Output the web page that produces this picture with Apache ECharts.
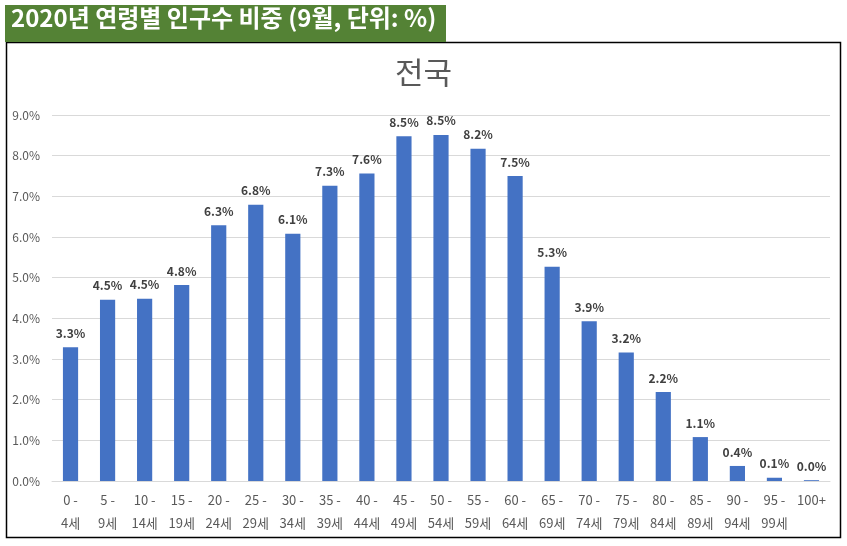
<!DOCTYPE html>
<html><head><meta charset="utf-8">
<script src="https://cdn.jsdelivr.net/npm/echarts@6/dist/echarts.min.js"></script>
<style>html,body{margin:0;padding:0;background:#fff}#c{width:847px;height:546px}</style>
</head><body><div id="c"></div>
<script>
const categories = ['0 -\n4세','5 -\n9세','10 -\n14세','15 -\n19세','20 -\n24세','25 -\n29세','30 -\n34세','35 -\n39세','40 -\n44세','45 -\n49세','50 -\n54세','55 -\n59세','60 -\n64세','65 -\n69세','70 -\n74세','75 -\n79세','80 -\n84세','85 -\n89세','90 -\n94세','95 -\n99세','100+'];
const shares = [3.29, 4.46, 4.48, 4.82, 6.29, 6.79, 6.08, 7.26, 7.56, 8.48, 8.51, 8.17, 7.50, 5.27, 3.93, 3.16, 2.19, 1.08, 0.37, 0.08, 0.02];
const headerText = '2020년 연령별 인구수 비중 (9월, 단위: %)';
const chartTitle = '전국';
const KR = '"Noto Sans CJK KR", "Noto Sans", sans-serif';

const chart = echarts.init(document.getElementById('c'), null, {renderer:'canvas'});
chart.setOption({
  animation: false,
  backgroundColor: '#fff',
  title: {
    text: chartTitle, left: 'center', top: 52,
    textStyle: {fontFamily: KR, fontSize: 31, fontWeight: 'normal', color: '#595959'}
  },
  graphic: [
    {type: 'rect', shape: {x: 6.5, y: 42.5, width: 834, height: 495}, style: {fill: 'none', stroke: '#000', lineWidth: 1.5}, z: 10},
    {type: 'rect', shape: {x: 5, y: 5, width: 441, height: 37}, style: {fill: '#548235'}, z: 11},
    {type: 'text', left: 11, top: 6, style: {text: headerText, fill: '#fff', font: 'bold 24px "Noto Sans CJK KR", sans-serif'}, z: 12}
  ],
  grid: {left: 52, right: 17, top: 115, bottom: 65, containLabel: false},
  xAxis: {
    type: 'category', data: categories,
    axisLine: {show: true, lineStyle: {color: '#d9d9d9'}},
    axisTick: {show: false},
    axisLabel: {color: '#595959', fontFamily: KR, fontSize: 13, lineHeight: 23, margin: 8, interval: 0}
  },
  yAxis: {
    type: 'value', min: 0, max: 9, interval: 1,
    axisLine: {show: false}, axisTick: {show: false},
    splitLine: {lineStyle: {color: '#d9d9d9'}},
    axisLabel: {color: '#595959', fontFamily: KR, fontSize: 12, margin: 12, formatter: v => v.toFixed(1) + '%'}
  },
  series: [{
    type: 'bar', data: shares, barWidth: '41%',
    itemStyle: {color: '#4472C4'},
    label: {show: true, position: 'top', distance: 8, color: '#404040', fontWeight: 'bold', fontSize: 12, fontFamily: KR,
      formatter: p => p.value.toFixed(1) + '%'}
  }]
});
</script></body></html>
